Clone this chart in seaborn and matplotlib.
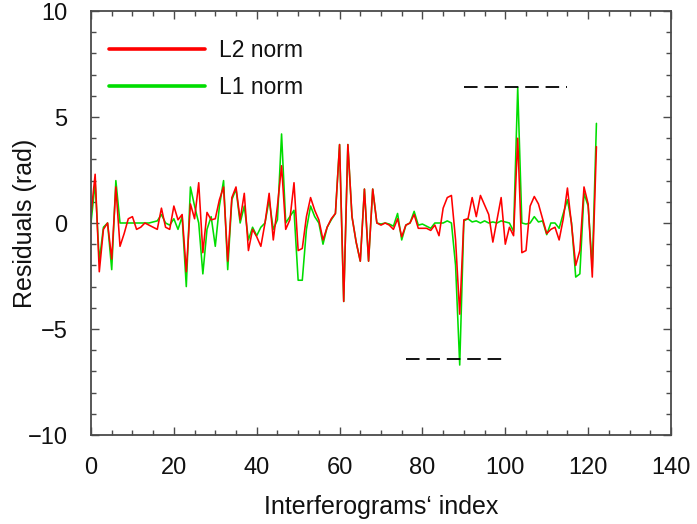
import numpy as np
import pandas as pd
import matplotlib
matplotlib.use("Agg")
import matplotlib.pyplot as plt
from matplotlib.ticker import MultipleLocator
import seaborn as sns

# ---- data ----
l2_norm = [0.4, 2.3, -2.3, -0.3, 0.0, -1.7, 1.7, -1.1, -0.5, 0.2,
           0.3, -0.3, -0.2, 0.0, -0.1, -0.2, -0.3, 0.7, -0.2, -0.3,
           0.8, 0.15, 0.4, -2.3, 0.9, 0.2, 1.9, -1.4, 0.5, 0.15,
           0.2, 1.1, 1.7, -1.8, 1.2, 1.7, 0.15, 1.4, -1.3, -0.3,
           -0.65, -1.1, 0.0, 1.4, -0.8, 0.8, 2.7, -0.3, 0.15, 1.9,
           -1.3, -1.2, 0.3, 1.2, 0.6, 0.15, -0.8, -0.2, 0.2, 0.45,
           3.7, -3.7, 3.7, 0.3, -0.9, -1.8, 1.6, -1.8, 1.6, 0.0,
           -0.1, 0.0, -0.1, -0.3, 0.2, -0.65, -0.1, 0.0, 0.4, -0.25,
           -0.25, -0.25, -0.35, -0.1, -0.6, 0.7, 1.2, 1.3, -0.8, -4.3,
           0.15, 0.2, 1.2, 0.3, 1.3, 0.85, 0.4, -0.9, 0.15, 1.2,
           -1.0, -0.2, -0.6, 4.0, -1.4, -1.3, 0.8, 1.25, 0.9, 0.2,
           -0.5, -0.3, -0.2, -0.8, 0.2, 1.65, -0.1, -2.0, -1.3, 1.7,
           0.9, -2.55, 3.6]
l1_norm = [0.0, 1.9, -1.8, -0.2, 0.0, -2.2, 2.0, 0.0, 0.0, 0.0,
           0.0, 0.0, 0.0, 0.0, 0.0, 0.05, 0.1, 0.4, 0.0, -0.1,
           0.2, -0.3, 0.3, -3.0, 1.7, 0.8, 0.0, -2.4, -0.3, 0.3,
           -1.1, 0.8, 2.0, -2.2, 1.1, 1.6, 0.0, 0.8, -0.8, -0.2,
           -0.6, -0.2, 0.0, 1.1, -0.3, 0.15, 4.2, 0.0, 0.3, 0.6,
           -2.7, -2.7, -0.3, 0.8, 0.3, 0.0, -1.0, -0.2, 0.15, 0.45,
           3.7, -3.7, 3.7, 0.3, -0.9, -1.8, 1.6, -1.8, 1.6, 0.0,
           -0.05, 0.0, -0.05, -0.15, 0.45, -0.8, -0.1, 0.0, 0.55, -0.1,
           -0.05, -0.15, -0.25, 0.0, 0.0, 0.0, 0.1, 0.0, -2.0, -6.7,
           0.1, 0.2, 0.05, 0.1, 0.0, 0.1, 0.0, 0.05, 0.0, 0.1,
           0.05, 0.0, -0.4, 6.4, 0.0, -0.05, 0.0, 0.3, 0.05, 0.1,
           -0.55, 0.0, 0.0, -0.25, 0.45, 1.1, 0.0, -2.55, -2.4, 1.4,
           0.8, -2.1, 4.7]
index = list(range(len(l2_norm)))

series_labels = ["L2 norm", "L1 norm"]
upper_level = 6.4
upper_span = [90, 115]
lower_level = -6.4
lower_span = [76, 100]

x_ticks = [0, 20, 40, 60, 80, 100, 120, 140]
y_ticks = [-10, -5, 0, 5, 10]

RED = "#ff0000"
GREEN = "#00dd00"

sns.set_style("ticks")
plt.rcParams["font.family"] = ["Liberation Sans", "DejaVu Sans"]

fig = plt.figure(figsize=(6.97, 5.24), dpi=100)
ax = fig.add_axes([91 / 697, 1 - 435 / 524, 580 / 697, 424 / 524])

df = pd.DataFrame({"index": index, "L2": l2_norm, "L1": l1_norm})
sns.lineplot(data=df, x="index", y="L1", color=GREEN, lw=1.15, ax=ax,
             label=series_labels[1])
sns.lineplot(data=df, x="index", y="L2", color=RED, lw=1.15, ax=ax,
             label=series_labels[0])

ax.hlines(upper_level, upper_span[0], upper_span[1], colors="black",
          linestyles=(0, (7.5, 3.8)), lw=1.3)
ax.hlines(lower_level, lower_span[0], lower_span[1], colors="black",
          linestyles=(0, (7.5, 3.8)), lw=1.3)

ax.set_xlim(0, 140)
ax.set_ylim(-10, 10)
ax.set_xticks(x_ticks)
ax.set_yticks(y_ticks)
ax.xaxis.set_minor_locator(MultipleLocator(5))
ax.yaxis.set_minor_locator(MultipleLocator(1))

frame_col = "#4a4a4a"
for sp in ax.spines.values():
    sp.set_color(frame_col)
    sp.set_linewidth(1.3)
    sp.set_visible(True)

ax.tick_params(which="both", direction="in", top=True, right=True,
               color=frame_col, width=1.0, labelcolor="#111111")
ax.tick_params(which="major", length=6)
ax.tick_params(which="minor", length=3.5)
ax.tick_params(axis="x", which="major", pad=16, labelsize=17)
ax.tick_params(axis="y", which="major", pad=17, labelsize=17)

ax.set_xlabel("Interferograms\u2018 index", fontsize=18, color="#111111")
ax.set_ylabel("Residuals (rad)", fontsize=18, color="#111111")
ax.xaxis.set_label_coords(0.5, -0.142)
ax.yaxis.set_label_coords(-0.093, 0.5)

handles, labels = ax.get_legend_handles_labels()
order = [labels.index(s) for s in series_labels]
leg = ax.legend([handles[i] for i in order], [labels[i] for i in order],
                loc="upper left", bbox_to_anchor=(-0.005, 0.983),
                frameon=False, fontsize=16.5, handlelength=4.2,
                handletextpad=0.6, labelspacing=0.62)
for ln in leg.get_lines():
    ln.set_linewidth(2.6)
for t in leg.get_texts():
    t.set_color("#111111")

fig.savefig("out.png", dpi=100)
